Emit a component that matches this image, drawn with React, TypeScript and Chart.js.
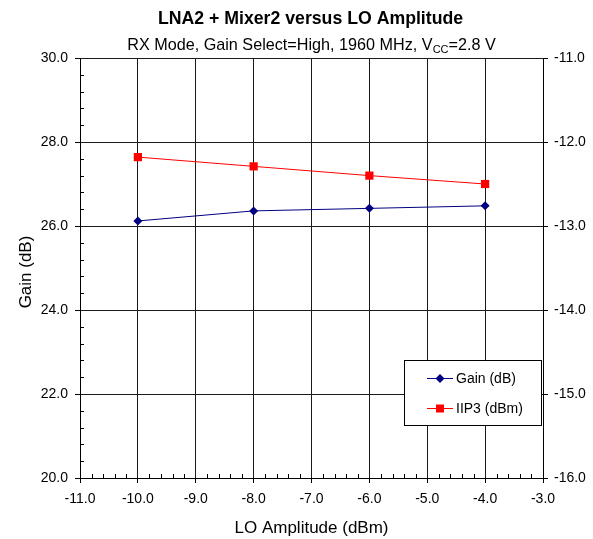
import React, { useEffect, useRef } from 'react';
import { Chart, registerables } from 'chart.js';

Chart.register(...registerables);

// ---- data ----
const loAmplitude = [-10, -8, -6, -4];
const gainDb = [26.12, 26.36, 26.42, 26.48];
const iip3Dbm = [-12.18, -12.29, -12.4, -12.5];

const seriesLabels = ['Gain (dB)', 'IIP3 (dBm)'];
const TITLE = 'LNA2 + Mixer2 versus LO Amplitude';
const SUB_MAIN = 'RX Mode, Gain Select=High, 1960 MHz, V';
const SUB_SUB = 'CC';
const SUB_END = '=2.8 V';
const X_TITLE = 'LO Amplitude (dBm)';
const Y_TITLE = 'Gain (dB)';

const FONT = '"Liberation Sans", Arial, sans-serif';
const GAIN_COLOR = '#000080';
const IIP3_COLOR = '#FF0000';

const overlayPlugin = {
  id: 'overlay',
  afterDraw(chart: any) {
    const ctx = chart.ctx as CanvasRenderingContext2D;
    const area = chart.chartArea;
    const xs = chart.scales.x;
    const ys = chart.scales.y;
    const cx = (area.left + area.right) / 2;
    ctx.save();
    ctx.fillStyle = '#000';
    // title
    ctx.font = `bold 17.7px ${FONT}`;
    ctx.textAlign = 'center';
    ctx.textBaseline = 'alphabetic';
    ctx.fillText(TITLE, cx - 1, 24);
    // subtitle with subscript
    const mainFont = `16.2px ${FONT}`;
    const subFont = `11px ${FONT}`;
    ctx.font = mainFont;
    const w1 = ctx.measureText(SUB_MAIN).width;
    const w3 = ctx.measureText(SUB_END).width;
    ctx.font = subFont;
    const w2 = ctx.measureText(SUB_SUB).width;
    let sx = cx - (w1 + w2 + w3) / 2;
    ctx.textAlign = 'left';
    ctx.font = mainFont;
    ctx.fillText(SUB_MAIN, sx, 50);
    sx += w1;
    ctx.font = subFont;
    ctx.fillText(SUB_SUB, sx, 53);
    sx += w2;
    ctx.font = mainFont;
    ctx.fillText(SUB_END, sx, 50);

    // axis titles
    ctx.font = `17px ${FONT}`;
    ctx.textAlign = 'center';
    ctx.fillText(X_TITLE, cx, 533);
    ctx.save();
    ctx.translate(31, 272);
    ctx.rotate(-Math.PI / 2);
    ctx.fillText(Y_TITLE, 0, 0);
    ctx.restore();

    // minor ticks (inside)
    ctx.strokeStyle = '#000';
    ctx.lineWidth = 1;
    ctx.beginPath();
    for (let i = 0; i <= 40; i++) {
      if (i % 5 === 0) continue;
      const v = xs.min + i * 0.2;
      const px = Math.round(xs.getPixelForValue(v)) + 0.5;
      ctx.moveTo(px, area.bottom);
      ctx.lineTo(px, area.bottom - 4);
    }
    for (let i = 0; i <= 25; i++) {
      if (i % 5 === 0) continue;
      const v = ys.min + i * 0.4;
      const py = Math.round(ys.getPixelForValue(v)) + 0.5;
      ctx.moveTo(area.left, py);
      ctx.lineTo(area.left + 4, py);
    }
    ctx.stroke();

    // legend
    const lx = 404, ly = 360, lw = 137, lh = 65;
    ctx.fillStyle = '#fff';
    ctx.fillRect(lx, ly, lw, lh);
    ctx.strokeStyle = '#000';
    ctx.strokeRect(lx + 0.5, ly + 0.5, lw, lh);
    const rows = [ly + 18, ly + 48];
    const colors = [GAIN_COLOR, IIP3_COLOR];
    ctx.font = `14px ${FONT}`;
    ctx.textAlign = 'left';
    ctx.textBaseline = 'middle';
    rows.forEach((ry, i) => {
      ctx.strokeStyle = colors[i];
      ctx.beginPath();
      ctx.moveTo(427, ry + 0.5);
      ctx.lineTo(453, ry + 0.5);
      ctx.stroke();
      ctx.fillStyle = colors[i];
      ctx.beginPath();
      if (i === 0) {
        ctx.moveTo(440 - 4.5, ry + 0.5);
        ctx.lineTo(440, ry + 0.5 - 4.5);
        ctx.lineTo(440 + 4.5, ry + 0.5);
        ctx.lineTo(440, ry + 0.5 + 4.5);
        ctx.closePath();
      } else {
        ctx.rect(436, ry - 3.5, 8, 8);
      }
      ctx.fill();
      ctx.fillStyle = '#000';
      ctx.fillText(seriesLabels[i], 456, ry + 1);
    });
    ctx.restore();
  },
};

export default function App() {
  const ref = useRef<HTMLCanvasElement | null>(null);
  useEffect(() => {
    if (!ref.current) return;
    const tickFont = { family: FONT, size: 14 };
    const chart = new Chart(ref.current, {
      type: 'line',
      data: {
        datasets: [
          {
            label: seriesLabels[0],
            data: loAmplitude.map((x, i) => ({ x, y: gainDb[i] })),
            yAxisID: 'y',
            borderColor: GAIN_COLOR,
            backgroundColor: GAIN_COLOR,
            borderWidth: 1,
            pointStyle: 'rectRot',
            pointRadius: 4.5,
            pointBorderWidth: 0,
            tension: 0,
          },
          {
            label: seriesLabels[1],
            data: loAmplitude.map((x, i) => ({ x, y: iip3Dbm[i] })),
            yAxisID: 'y2',
            borderColor: IIP3_COLOR,
            backgroundColor: IIP3_COLOR,
            borderWidth: 1,
            pointStyle: 'rect',
            pointRadius: 5.8,
            pointBorderWidth: 0,
            tension: 0,
          },
        ],
      },
      options: {
        responsive: false,
        animation: false,
        events: [],
        layout: { padding: { top: 58, left: 0, right: 0, bottom: 0 } },
        plugins: { legend: { display: false }, tooltip: { enabled: false }, title: { display: false } },
        scales: {
          x: {
            type: 'linear',
            min: -11,
            max: -3,
            ticks: {
              stepSize: 1,
              autoSkip: false,
              maxRotation: 0,
              color: '#000',
              font: tickFont,
              padding: 8,
              callback: (v: any) => Number(v).toFixed(1),
            },
            grid: { color: '#1a1a1a', lineWidth: 1, tickLength: 5, tickColor: '#000' },
            border: { color: '#000', width: 1 },
            afterFit: (s: any) => { s.height = 61; },
          },
          y: {
            type: 'linear',
            position: 'left',
            min: 20,
            max: 30,
            ticks: {
              stepSize: 2,
              color: '#000',
              font: tickFont,
              padding: 7,
              callback: (v: any) => Number(v).toFixed(1),
            },
            grid: { color: '#1a1a1a', lineWidth: 1, tickLength: 5, tickColor: '#000' },
            border: { color: '#000', width: 1 },
            afterFit: (s: any) => { s.width = 80; },
          },
          y2: {
            type: 'linear',
            position: 'right',
            min: -16,
            max: -11,
            ticks: {
              stepSize: 1,
              color: '#000',
              font: tickFont,
              padding: 6,
              callback: (v: any) => Number(v).toFixed(1),
            },
            grid: { drawOnChartArea: false, tickLength: 5, tickColor: '#000' },
            border: { color: '#000', width: 1 },
            afterFit: (s: any) => { s.width = 50; },
          },
        },
      },
      plugins: [overlayPlugin],
    });
    return () => chart.destroy();
  }, []);
  return (
    <div style={{ position: 'absolute', left: 0, top: 0, width: 593, height: 539, background: '#fff' }}>
      <canvas ref={ref} width={593} height={539} style={{ display: 'block', width: 593, height: 539 }} />
    </div>
  );
}
